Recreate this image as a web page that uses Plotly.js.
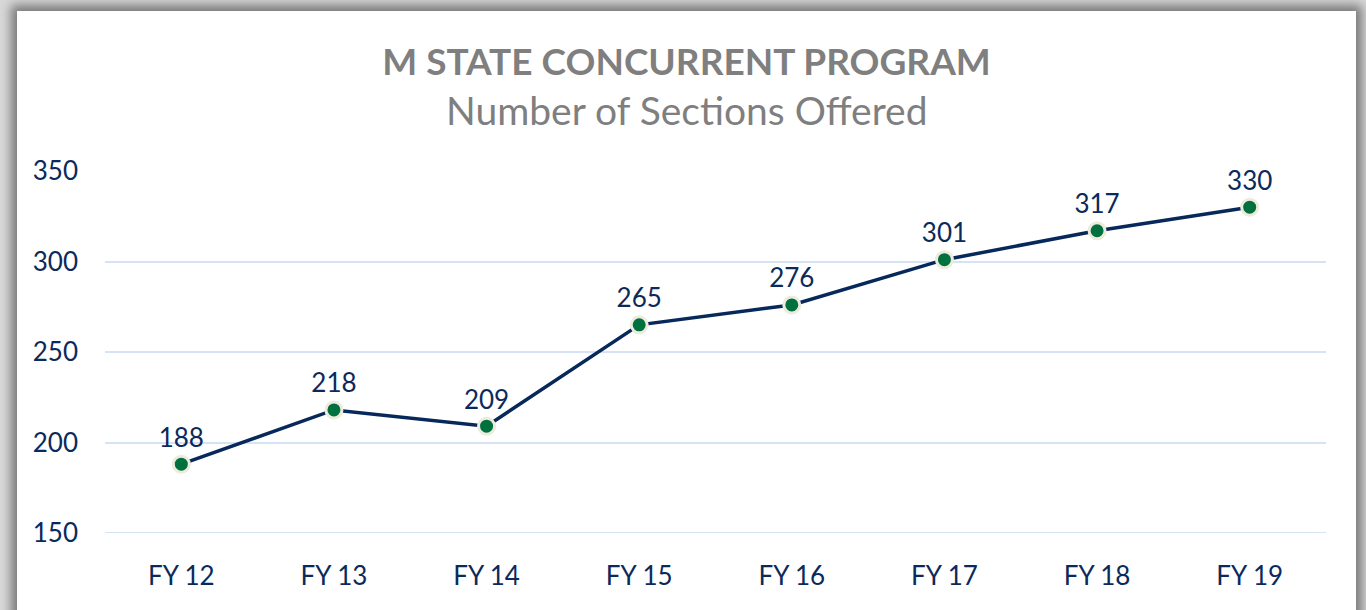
<!DOCTYPE html>
<html>
<head>
<meta charset="utf-8">
<script src="https://cdn.plot.ly/plotly-3.0.1.min.js"></script>
<style>
  html, body { margin: 0; padding: 0; width: 1366px; height: 610px; overflow: hidden; background: #d9d9d9; }
  #frame { position: absolute; left: 17px; top: 11px; width: 1339px; height: 610px; background: #fff;
           box-shadow: 0 0 10px 6px rgba(90,90,90,0.75); }
  #chart { width: 1339px; height: 600px; }
</style>
</head>
<body>
<div id="frame"><div id="chart"></div></div>
<script>
const categories = ["FY 12", "FY 13", "FY 14", "FY 15", "FY 16", "FY 17", "FY 18", "FY 19"];
const sections = [188, 218, 209, 265, 276, 301, 317, 330];
const yTicks = [150, 200, 250, 300, 350];

const navy = "#0b2a5b";
const textFont = "Lato, 'Open Sans', sans-serif";

const W = 1339, H = 600;
const M = { l: 88, r: 30, t: 160, b: 78 };
const subtitleX = (W / 2 - M.l) / (W - M.l - M.r);

const trace = {
  x: categories,
  y: sections,
  type: "scatter",
  mode: "lines+markers+text",
  text: sections.map(String),
  textposition: "top center",
  textfont: { family: textFont, size: 26, color: navy },
  line: { color: "#06285a", width: 3.5 },
  marker: { size: 16, color: "#00703f", line: { color: "#ecebdc", width: 3 } },
  cliponaxis: false,
  hoverinfo: "x+y"
};

const layout = {
  width: W,
  height: H,
  margin: M,
  paper_bgcolor: "#ffffff",
  plot_bgcolor: "#ffffff",
  showlegend: false,
  title: {
    text: "<b>M STATE CONCURRENT PROGRAM</b>",
    font: { family: textFont, size: 37, color: "#7f7f7f" },
    x: 0.5, xanchor: "center",
    y: 1 - 51 / H, yref: "container", yanchor: "middle"
  },
  annotations: [{
    text: "Number of Sections Offered",
    xref: "paper", yref: "paper",
    x: subtitleX, y: 1, xanchor: "center", yanchor: "middle",
    yshift: 61,
    showarrow: false,
    font: { family: textFont, size: 39, color: "#7f7f7f" }
  }],
  xaxis: {
    type: "category",
    range: [-0.5, categories.length - 0.5],
    showgrid: false,
    showline: false,
    zeroline: false,
    ticks: "",
    tickfont: { family: textFont, size: 26, color: navy },
    ticklabelstandoff: 25
  },
  yaxis: {
    range: [150, 350],
    tickvals: yTicks,
    ticktext: yTicks.map(String),
    showgrid: true,
    gridcolor: "#d5e3f4",
    gridwidth: 2,
    zeroline: false,
    showline: false,
    ticks: "",
    tickfont: { family: textFont, size: 26, color: navy },
    ticklabelstandoff: 26
  },
  shapes: [{
    type: "line", xref: "paper", yref: "y", x0: 0, x1: 1, y0: 150, y1: 150,
    line: { color: "#d5e3f4", width: 2 }
  }]
};

Plotly.newPlot("chart", [trace], layout, { displayModeBar: false, staticPlot: true });
</script>
</body>
</html>
